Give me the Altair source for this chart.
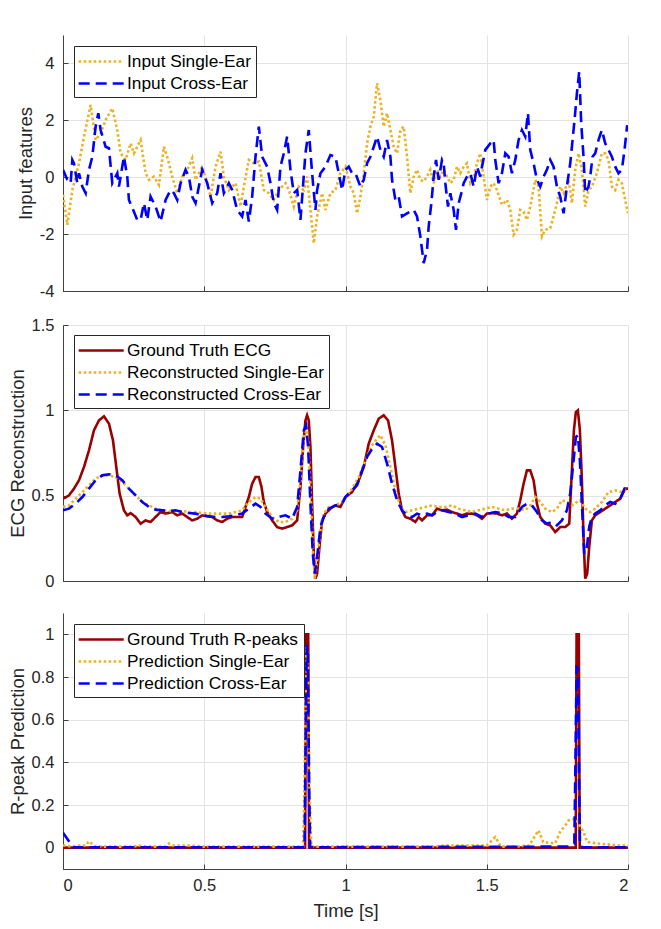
import altair as alt
import pandas as pd

# ---------------- Panel 1: input features ----------------
in_single_t = [0, 0.0153, 0.033, 0.0566, 0.0743, 0.0978, 0.1155, 0.1332, 0.1509, 0.1745, 0.1922, 0.204, 0.2216, 0.2393, 0.2511, 0.2747, 0.2924, 0.3042, 0.3218, 0.3395, 0.3572, 0.369, 0.3867, 0.4044, 0.422, 0.4397, 0.4574, 0.4692, 0.4928, 0.5105, 0.5223, 0.54, 0.5576, 0.5694, 0.5871, 0.6107, 0.6284, 0.6401, 0.6578, 0.6755, 0.6932, 0.7109, 0.7286, 0.7462, 0.7639, 0.7875, 0.7993, 0.817, 0.8347, 0.8524, 0.8641, 0.8877, 0.8995, 0.9172, 0.929, 0.9466, 0.9643, 0.982, 0.9997,
               1.0174, 1.0292, 1.041, 1.0528, 1.0646, 1.0764, 1.0882, 1.1, 1.1117, 1.1235, 1.1353, 1.1471, 1.1589, 1.1707, 1.1825, 1.1943, 1.206, 1.2178, 1.2296, 1.2414, 1.2532, 1.265, 1.2768, 1.2886, 1.3004, 1.3122, 1.324, 1.3357, 1.3475, 1.3593, 1.3711, 1.3829, 1.3947, 1.4064, 1.4182, 1.43, 1.4418, 1.4536, 1.4654, 1.4772, 1.489, 1.5007, 1.5125, 1.5243, 1.5361, 1.5538, 1.5715, 1.5833, 1.5951, 1.6068, 1.6186, 1.6304, 1.6422, 1.654, 1.6717, 1.6835, 1.6953, 1.7071, 1.7247, 1.7365, 1.7483, 1.7601, 1.7719, 1.7896, 1.8014, 1.8132, 1.825, 1.8368, 1.8485, 1.8603, 1.8721, 1.8898, 1.9075, 1.9193, 1.9311, 1.9429, 1.9547, 1.9664, 1.9782, 1.99, 2.0]
in_single_v = [-0.62, -1.67, -0.45, 0.49, 1.43, 2.54, 1.31, 1.54, 2.01, 2.42, 1.66, 0.84, 0.61, 1.19, 0.84, 1.31, 0.14, -0.09, 0.02, -0.27, 1.07, 0.72, 0.02, -0.56, 0.02, 0.26, 0.67, -0.09, 0.37, -0.21, -0.68, 0.37, 0.90, 0.02, -0.45, -0.21, -1.03, -0.33, 0.61, 0.49, 0.55, -0.45, -0.56, -0.80, -0.45, -0.21, -0.45, -1.03, -0.33, -0.45, 0.02, -2.32, -1.38, -0.56, -1.15, -0.56, -0.45, 0.14, 0.37,
               -0.33, -0.56, -1.27, -0.68, 0.14, 1.19, 1.78, 2.13, 3.30, 2.71, 1.78, 2.25, 1.66, 1.07, 0.84, 1.66, 1.78, 0.72, -0.56, 0.02, 0.26, -0.09, -0.15, 0.02, 0.26, -0.21, 0.26, 0.02, 0.26, 0.02, -0.21, -0.09, 0.37, 0.14, 0.37, 0.49, -0.21, 0.02, 0.49, 0.84, 0.02, -0.80, -0.33, -0.21, -0.45, -0.97, -0.80, -1.15, -2.02, -1.85, -1.15, -1.21, -1.50, -1.03, -0.09, -0.33, -2.08, -1.85, -1.79, -1.38, -0.91, -0.33, -0.56, -0.09, -0.91, 0.26, 0.84, 0.26, -1.03, -0.45, -0.33, 0.14, 0.84, 0.84, 0.61, -0.33, -0.45, -0.09, -0.21, -0.80, -1.27]

in_cross_t = [0, 0.0153, 0.0271, 0.033, 0.0389, 0.0507, 0.0566, 0.0684, 0.0802, 0.092, 0.1037, 0.1155, 0.125, 0.1332, 0.1509, 0.1627, 0.1745, 0.1922, 0.198, 0.2157, 0.2275, 0.2334, 0.2511, 0.2629, 0.2747, 0.2865, 0.2983, 0.31, 0.3277, 0.3454, 0.3631, 0.3808, 0.3926, 0.4044, 0.4162, 0.4338, 0.4456, 0.4574, 0.4692, 0.481, 0.4928, 0.5105, 0.5282, 0.5458, 0.5576, 0.5694, 0.5871, 0.5989, 0.6166, 0.6342, 0.646, 0.6578, 0.6696, 0.6814, 0.6932, 0.705, 0.7227, 0.7345, 0.7462, 0.758, 0.7698, 0.7816, 0.7934, 0.8052, 0.817, 0.8288, 0.8406, 0.8582, 0.87, 0.8818, 0.8936, 0.8995, 0.9113, 0.929, 0.9466, 0.9643, 0.9761, 0.9879, 0.9997,
              1.0115, 1.0233, 1.0351, 1.0528, 1.0646, 1.0764, 1.0882, 1.1, 1.1117, 1.1235, 1.1353, 1.1471, 1.1589, 1.1648, 1.1766, 1.1884, 1.2001, 1.2178, 1.2296, 1.2414, 1.2532, 1.265, 1.2768, 1.2886, 1.2945, 1.3039, 1.3122, 1.3204, 1.3299, 1.3416, 1.3475, 1.3534, 1.3628, 1.3711, 1.3829, 1.3912, 1.4006, 1.41, 1.4182, 1.43, 1.4418, 1.4536, 1.4654, 1.4772, 1.4831, 1.4949, 1.5125, 1.5243, 1.5302, 1.542, 1.5538, 1.5656, 1.5774, 1.5892, 1.601, 1.6127, 1.6245, 1.6363, 1.6458, 1.654, 1.6658, 1.6776, 1.6894, 1.7012, 1.7129, 1.7247, 1.7365, 1.7483, 1.7601, 1.7719, 1.7837, 1.7955, 1.8014, 1.8108, 1.8191, 1.8273, 1.8344, 1.8426, 1.8485, 1.8603, 1.8662, 1.8745, 1.8839, 1.8957, 1.9075, 1.9193, 1.9311, 1.9429, 1.9547, 1.9664, 1.9782, 1.9877, 1.9971]
in_cross_v = [0.26, -0.09, -0.21, 0.61, 0.49, -0.21, 0.14, -0.33, -0.56, 0.26, 0.72, 1.78, 2.25, 1.66, 1.07, 1.02, -0.21, 0.14, -0.33, 0.72, 0.02, -0.80, -1.21, -1.50, -1.50, -0.91, -1.50, -0.68, -1.03, -1.56, -0.80, -0.45, -0.56, -0.80, -0.21, 0.26, 0.02, -0.68, -0.91, -0.33, 0.26, -0.21, -0.91, -0.56, 0.14, -0.56, -0.21, -0.45, -1.15, -1.38, -0.80, -1.56, -0.68, 0.72, 1.78, 0.72, 0.37, -0.21, -0.91, -1.15, 0.37, 0.84, 1.43, 0.26, -0.56, -0.45, -1.50, 0.84, 1.66, 0.14, -1.15, -0.45, 0.14, 0.37, 0.78, 0.72, 0.14, -0.45, 0.26,
              0.37, 0.14, 0.14, -0.33, -0.09, 0.49, 0.72, 1.07, 1.43, 0.96, 0.72, 1.31, 0.72, -0.09, -0.80, -0.68, -1.38, -1.27, -1.21, -1.15, -1.38, -2.08, -3.02, -2.55, -1.73, -0.91, 0.02, 0.61, -0.09, 0.61, 0.49, -0.21, -1.03, -0.56, -1.15, -1.85, -0.91, -0.56, -0.21, 0.02, 0.14, -0.33, 0.37, 0.02, 0.37, 0.96, 1.19, 1.31, 0.61, -0.21, 0.14, 0.84, 0.72, 0.14, 0.61, 1.31, 1.66, 1.43, 2.25, 0.96, 0.49, -0.09, -0.33, 0.02, 0.26, 0.61, 0.37, -0.33, -0.68, -1.27, -0.33, 0.49, 1.07, 2.01, 2.95, 3.71, 1.89, 0.72, -0.56, -0.33, 0.02, 0.72, 0.84, 1.31, 1.66, 1.19, 0.96, 0.72, 0.37, 0.14, 0.26, 0.96, 1.83]

# ---------------- Panel 2: ECG reconstruction ----------------
ecg_gt_t = [0, 0.0212, 0.0389, 0.0566, 0.0743, 0.092, 0.1096, 0.1273, 0.145, 0.1627, 0.1769, 0.1886, 0.2004, 0.2157, 0.2275, 0.2393, 0.257, 0.2747, 0.2924, 0.31, 0.3277, 0.3454, 0.3631, 0.3867, 0.4044, 0.422, 0.4397, 0.4574, 0.4751, 0.4928, 0.5105, 0.5282, 0.5458, 0.5635, 0.5812, 0.5989, 0.6166, 0.6342, 0.646, 0.6578, 0.6696, 0.6814, 0.6932, 0.7026, 0.7109, 0.7227, 0.7404, 0.758, 0.7757, 0.7934, 0.811, 0.8288, 0.8406, 0.85, 0.8582, 0.8641, 0.87, 0.8759, 0.8818, 0.8877, 0.8936, 0.8995, 0.9078, 0.9172, 0.929, 0.9466, 0.9643, 0.982, 0.9997,
            1.0233, 1.0469, 1.0646, 1.0823, 1.1, 1.1176, 1.1353, 1.1506, 1.1648, 1.1766, 1.1884, 1.2001, 1.2119, 1.2296, 1.2473, 1.2591, 1.2709, 1.2886, 1.3063, 1.324, 1.3416, 1.3593, 1.377, 1.3947, 1.4123, 1.43, 1.4477, 1.4654, 1.4831, 1.5007, 1.5184, 1.5361, 1.5538, 1.5715, 1.5892, 1.6068, 1.6186, 1.6304, 1.6422, 1.654, 1.6658, 1.6776, 1.6894, 1.7071, 1.7247, 1.7424, 1.7601, 1.7778, 1.792, 1.8014, 1.8085, 1.8155, 1.8226, 1.8297, 1.8368, 1.8426, 1.8485, 1.8556, 1.8627, 1.8721, 1.8839, 1.9016, 1.9193, 1.937, 1.9547, 1.9723, 1.99, 2.0]
ecg_gt_v = [0.482, 0.502, 0.541, 0.590, 0.668, 0.766, 0.883, 0.941, 0.965, 0.922, 0.824, 0.668, 0.512, 0.414, 0.385, 0.398, 0.375, 0.336, 0.355, 0.346, 0.375, 0.404, 0.395, 0.404, 0.385, 0.395, 0.375, 0.355, 0.365, 0.385, 0.379, 0.375, 0.355, 0.346, 0.365, 0.375, 0.375, 0.375, 0.434, 0.492, 0.570, 0.609, 0.609, 0.551, 0.463, 0.404, 0.355, 0.316, 0.307, 0.316, 0.326, 0.355, 0.551, 0.785, 0.941, 0.971, 0.941, 0.785, 0.453, 0.160, 0.014, 0.043, 0.199, 0.355, 0.395, 0.424, 0.443, 0.434, 0.492,
            0.521, 0.590, 0.668, 0.805, 0.883, 0.951, 0.971, 0.941, 0.824, 0.668, 0.512, 0.414, 0.375, 0.365, 0.346, 0.375, 0.355, 0.385, 0.385, 0.424, 0.414, 0.418, 0.404, 0.395, 0.385, 0.395, 0.395, 0.385, 0.365, 0.395, 0.398, 0.395, 0.385, 0.395, 0.365, 0.395, 0.473, 0.570, 0.648, 0.648, 0.590, 0.453, 0.375, 0.336, 0.326, 0.287, 0.316, 0.316, 0.336, 0.648, 0.883, 0.990, 1.000, 0.883, 0.590, 0.258, 0.014, 0.043, 0.199, 0.355, 0.385, 0.404, 0.424, 0.443, 0.463, 0.482, 0.541, 0.541]

ecg_single_t = [0, 0.0212, 0.0448, 0.0684, 0.092, 0.1155, 0.1391, 0.1627, 0.1863, 0.2098, 0.2334, 0.257, 0.2806, 0.3042, 0.3277, 0.3513, 0.3749, 0.3985, 0.422, 0.4456, 0.4692, 0.4928, 0.5164, 0.54, 0.5635, 0.5871, 0.6107, 0.6342, 0.6578, 0.6814, 0.6991, 0.7168, 0.7404, 0.7639, 0.7875, 0.811, 0.8288, 0.8406, 0.8524, 0.8606, 0.8677, 0.8759, 0.8842, 0.8912, 0.8995, 0.9113, 0.9231, 0.9408, 0.9643, 0.9879,
                1.0233, 1.0469, 1.0705, 1.0941, 1.1117, 1.1235, 1.1412, 1.1589, 1.1766, 1.1943, 1.2119, 1.2355, 1.2591, 1.2827, 1.3063, 1.3299, 1.3534, 1.377, 1.4006, 1.4241, 1.4477, 1.4713, 1.4949, 1.5184, 1.542, 1.5656, 1.5892, 1.6127, 1.6363, 1.654, 1.6717, 1.6894, 1.7071, 1.7306, 1.7483, 1.766, 1.7837, 1.8014, 1.8191, 1.8308, 1.8485, 1.8662, 1.8839, 1.9075, 1.9311, 1.9547, 1.9782, 2.0]
ecg_single_v = [0.434, 0.443, 0.482, 0.521, 0.561, 0.600, 0.619, 0.619, 0.609, 0.580, 0.541, 0.502, 0.463, 0.443, 0.424, 0.414, 0.410, 0.410, 0.410, 0.404, 0.404, 0.398, 0.395, 0.395, 0.395, 0.395, 0.404, 0.414, 0.463, 0.492, 0.482, 0.434, 0.375, 0.346, 0.346, 0.365, 0.414, 0.590, 0.844, 0.902, 0.824, 0.551, 0.199, 0.014, 0.121, 0.297, 0.395, 0.434, 0.443, 0.463,
                0.541, 0.609, 0.707, 0.795, 0.834, 0.854, 0.795, 0.668, 0.531, 0.434, 0.404, 0.414, 0.424, 0.434, 0.443, 0.434, 0.434, 0.443, 0.424, 0.414, 0.404, 0.414, 0.424, 0.434, 0.424, 0.414, 0.424, 0.424, 0.414, 0.443, 0.492, 0.463, 0.424, 0.404, 0.424, 0.473, 0.463, 0.443, 0.463, 0.473, 0.424, 0.404, 0.424, 0.463, 0.521, 0.531, 0.521, 0.541]

ecg_cross_t = [0, 0.0212, 0.0448, 0.0684, 0.092, 0.1155, 0.1391, 0.1627, 0.1863, 0.2098, 0.2334, 0.257, 0.2806, 0.3042, 0.3277, 0.3513, 0.3749, 0.3985, 0.422, 0.4456, 0.4692, 0.4928, 0.5164, 0.54, 0.5635, 0.5871, 0.6107, 0.6342, 0.6578, 0.6814, 0.6991, 0.7168, 0.7404, 0.7639, 0.7875, 0.811, 0.8288, 0.8406, 0.8524, 0.8606, 0.8677, 0.8759, 0.8842, 0.8912, 0.8995, 0.9113, 0.9231, 0.9408, 0.9643, 0.9879,
               0.9997, 1.0233, 1.041, 1.0587, 1.0764, 1.0941, 1.1117, 1.1294, 1.1471, 1.1648, 1.1825, 1.2001, 1.2178, 1.2355, 1.2532, 1.2709, 1.2886, 1.3063, 1.324, 1.3416, 1.3652, 1.3888, 1.4123, 1.4359, 1.4595, 1.4831, 1.5066, 1.5302, 1.5538, 1.5774, 1.601, 1.6245, 1.6422, 1.6599, 1.6776, 1.6953, 1.7129, 1.7306, 1.7483, 1.766, 1.7837, 1.7955, 1.8073, 1.8155, 1.8226, 1.8297, 1.8368, 1.845, 1.8544, 1.8627, 1.8721, 1.8839, 1.9016, 1.9193, 1.937, 1.9547, 1.9723, 1.9877, 2.0]
ecg_cross_v = [0.414, 0.424, 0.453, 0.492, 0.541, 0.590, 0.619, 0.625, 0.619, 0.590, 0.541, 0.502, 0.463, 0.434, 0.418, 0.414, 0.410, 0.414, 0.404, 0.398, 0.395, 0.385, 0.379, 0.375, 0.375, 0.379, 0.385, 0.395, 0.424, 0.453, 0.434, 0.395, 0.365, 0.375, 0.385, 0.365, 0.434, 0.648, 0.883, 0.912, 0.785, 0.453, 0.160, 0.043, 0.141, 0.316, 0.375, 0.424, 0.443, 0.453,
               0.492, 0.531, 0.561, 0.648, 0.727, 0.775, 0.805, 0.785, 0.688, 0.570, 0.473, 0.414, 0.385, 0.375, 0.395, 0.385, 0.395, 0.385, 0.404, 0.414, 0.404, 0.395, 0.375, 0.385, 0.395, 0.375, 0.395, 0.404, 0.398, 0.375, 0.375, 0.434, 0.453, 0.443, 0.404, 0.355, 0.336, 0.346, 0.326, 0.355, 0.414, 0.512, 0.707, 0.844, 0.854, 0.707, 0.453, 0.160, 0.199, 0.316, 0.375, 0.395, 0.414, 0.443, 0.463, 0.453, 0.482, 0.541, 0.541]

# ---------------- Panel 3: R-peak prediction ----------------
rp_gt_t = [0, 0.857, 0.860, 0.868, 0.871, 1.815, 1.818, 1.826, 1.829, 2.0]
rp_gt_v = [0, 0, 1, 1, 0, 0, 1, 1, 0, 0]

rp_single_t = [0, 0.009, 0.03, 0.06, 0.08, 0.092, 0.105, 0.116, 0.15, 0.25, 0.269, 0.29, 0.36, 0.375, 0.39, 0.45, 0.5, 0.85, 0.855, 0.861, 0.867, 0.873, 0.879, 1.3, 1.36, 1.44, 1.5, 1.53, 1.55, 1.6, 1.65, 1.683, 1.70, 1.742, 1.76, 1.778, 1.79, 1.815, 1.843, 1.855, 1.89, 1.97, 2.0]
rp_single_v = [0.01, 0.01, 0.005, 0.01, 0.01, 0.03, 0.015, 0.005, 0.005, 0.005, 0.01, 0.005, 0.005, 0.019, 0.01, 0.01, 0.005, 0.005, 0.3, 0.94, 0.9, 0.25, 0.005, 0.005, 0.01, 0.01, 0.01, 0.05, 0.005, 0.005, 0.01, 0.081, 0.026, 0.02, 0.075, 0.104, 0.128, 0.135, 0.073, 0.027, 0.02, 0.01, 0.01]

rp_cross_t = [0, 0.021, 0.035, 0.855, 0.859, 0.863, 0.867, 0.871, 0.875, 1.79, 1.81, 1.814, 1.818, 1.823, 1.827, 1.83, 1.84, 2.0]
rp_cross_v = [0.07, 0.03, 0.002, 0.002, 0.5, 0.95, 0.9, 0.3, 0.002, 0.005, 0.02, 0.4, 0.845, 0.84, 0.3, 0.01, 0.002, 0.002]

ORANGE = "#EDB120"
BLUE = "#0000FF"
RED = "#990000"
DOT = [2.5, 2.5]
DASH = [11, 6]
SOLID = [1, 0]
FONT = "Liberation Sans"
TXT = "#262626"


def frame(ts, vs, name):
    return pd.DataFrame({"t": ts, "v": vs, "series": name})


def make_panel(frames, names, colors, dashes, ydom, yticks, ytitle, xlabels, legend_y):
    df = pd.concat(frames, ignore_index=True)
    cscale = alt.Scale(domain=names, range=colors)
    dscale = alt.Scale(domain=names, range=dashes)
    # custom line symbol: unit = sqrt(size)/2 = 9 px -> line 45 px long, row height 18 px
    leg = alt.Legend(title=None, orient="none", legendX=11, legendY=legend_y,
                     fillColor="white", strokeColor="#262626", padding=5,
                     symbolType="M-1.2,0L3.8,0", symbolSize=324, symbolStrokeWidth=2.6,
                     labelFontSize=17.3, labelFont=FONT, labelColor="black",
                     labelOffset=27, rowPadding=3, cornerRadius=0, labelLimit=400)
    xs = alt.Scale(domain=[0, 2], nice=False, zero=False)
    ys = alt.Scale(domain=ydom, nice=False, zero=False)
    xvals = [0, 0.5, 1, 1.5, 2]
    main_x_kw = dict(values=xvals, grid=True, ticks=False, tickSize=0, labels=xlabels,
                     labelExpr="'' + datum.value", labelPadding=8, titlePadding=8,
                     orient="bottom")
    if xlabels:
        main_x = alt.Axis(title="Time [s]", **main_x_kw)
    else:
        main_x = alt.Axis(title=None, **main_x_kw)
    main_y = alt.Axis(title=ytitle, values=yticks, grid=True, ticks=False, tickSize=0,
                      labelExpr="'' + datum.value", labelPadding=9, titlePadding=4,
                      orient="left")
    tick_x = alt.Axis(title=None, values=xvals, grid=False, ticks=True, tickSize=5,
                      labels=False, domain=False, offset=-5, orient="bottom")
    tick_y = alt.Axis(title=None, values=yticks, grid=False, ticks=True, tickSize=5,
                      labels=False, domain=False, offset=-5, orient="left")
    layers = []
    for i, name in enumerate(names):
        if i == 0:
            ax, ay = main_x, main_y
        elif i == 1:
            ax, ay = tick_x, tick_y
        else:
            ax, ay = None, None
        layer = alt.Chart(df).transform_filter(alt.datum.series == name).mark_line(
            strokeWidth=2.6, strokeCap="butt", clip=True
        ).encode(
            x=alt.X("t:Q", scale=xs, axis=ax),
            y=alt.Y("v:Q", scale=ys, axis=ay),
            color=alt.Color("series:N", scale=cscale, legend=leg),
            strokeDash=alt.StrokeDash("series:N", scale=dscale, legend=leg),
        )
        layers.append(layer)
    return alt.layer(*layers).resolve_axis(x="independent", y="independent").properties(
        width=565, height=256)


p1 = make_panel([frame(in_single_t, in_single_v, "Input Single-Ear"),
                 frame(in_cross_t, in_cross_v, "Input Cross-Ear")],
                ["Input Single-Ear", "Input Cross-Ear"], [ORANGE, BLUE], [DOT, DASH],
                [-4, 5], [-4, -2, 0, 2, 4], "Input features", False, 11)
p2 = make_panel([frame(ecg_gt_t, ecg_gt_v, "Ground Truth ECG"),
                 frame(ecg_single_t, ecg_single_v, "Reconstructed Single-Ear"),
                 frame(ecg_cross_t, ecg_cross_v, "Reconstructed Cross-Ear")],
                ["Ground Truth ECG", "Reconstructed Single-Ear", "Reconstructed Cross-Ear"],
                [RED, ORANGE, BLUE], [SOLID, DOT, DASH],
                [0, 1.5], [0, 0.5, 1, 1.5], "ECG Reconstruction", False, 10)
p3 = make_panel([frame(rp_gt_t, rp_gt_v, "Ground Truth R-peaks"),
                 frame(rp_single_t, rp_single_v, "Prediction Single-Ear"),
                 frame(rp_cross_t, rp_cross_v, "Prediction Cross-Ear")],
                ["Ground Truth R-peaks", "Prediction Single-Ear", "Prediction Cross-Ear"],
                [RED, ORANGE, BLUE], [SOLID, DOT, DASH],
                [-0.1, 1.1], [0, 0.2, 0.4, 0.6, 0.8, 1], "R-peak Prediction", True, 11)

indep = dict(color="independent", strokeDash="independent", x="independent", y="independent")
top_two = alt.vconcat(p1, p2, spacing=17).resolve_scale(**indep)

chart = alt.vconcat(top_two, p3, spacing=23).resolve_scale(**indep).properties(
    padding={"left": 0, "top": 27, "right": 5, "bottom": 5},
    background="white",
).configure_view(stroke=None).configure_axis(
    labelFont=FONT, labelFontSize=16.5, labelColor=TXT,
    titleFont=FONT, titleFontSize=18.5, titleFontWeight="normal", titleColor=TXT,
    gridColor="#e3e3e3", gridWidth=1, domainColor="#404040", domainWidth=1,
    tickColor="#404040", tickWidth=1
)

chart.save("out.html", embed_options={"renderer": "svg", "actions": False})
